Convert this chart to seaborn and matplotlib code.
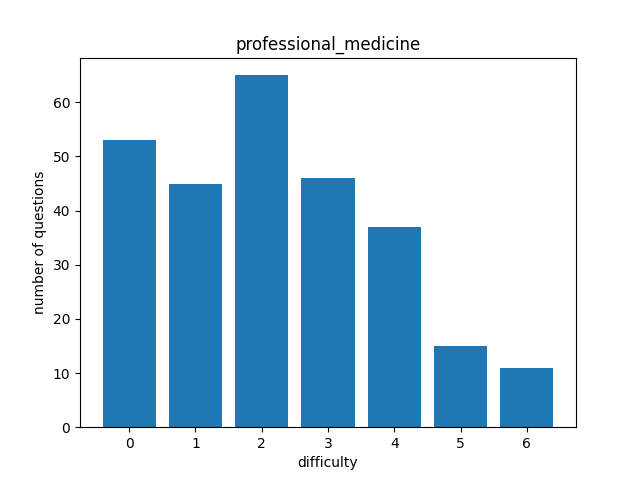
import matplotlib
matplotlib.use("Agg")
import matplotlib.pyplot as plt
import seaborn as sns
import pandas as pd

difficulty = [0, 1, 2, 3, 4, 5, 6]
counts = [53, 45, 65, 46, 37, 15, 11]

df = pd.DataFrame({"difficulty": difficulty, "count": counts})

fig, ax = plt.subplots(figsize=(6.4, 4.8), dpi=100)
sns.barplot(data=df, x="difficulty", y="count", color="#1f77b4",
            saturation=1, width=0.8, ax=ax)
ax.set_xlim(-0.74, 6.74)
ax.set_ylim(0, 68.25)
ax.set_title("professional_medicine")
ax.set_xlabel("difficulty")
ax.set_ylabel("number of questions")
plt.savefig("out.png", dpi=100)
